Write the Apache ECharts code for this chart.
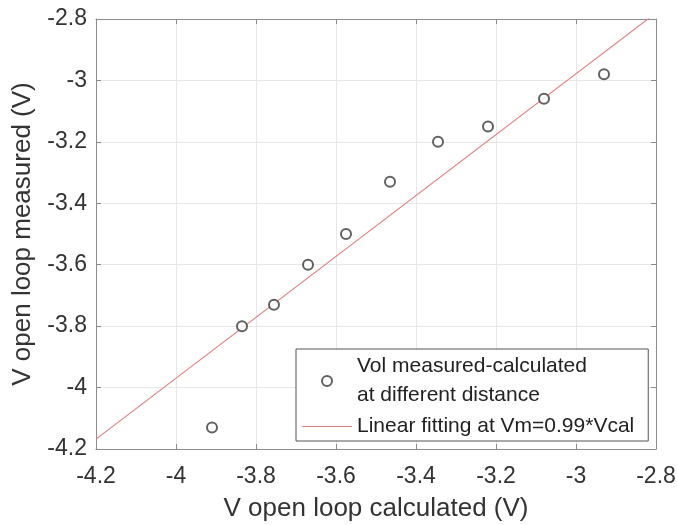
<!doctype html>
<html>
<head>
<meta charset="UTF-8">
<title>V open loop</title>
<script src="https://cdn.jsdelivr.net/npm/echarts@6/dist/echarts.min.js"></script>
<style>
  html, body { margin: 0; padding: 0; background: #fff; }
  #main { width: 677px; height: 525px; }
</style>
</head>
<body>
<div id="main"></div>
<script>
// measured vs calculated open loop voltage (V)
var calcV = [-3.91, -3.835, -3.755, -3.67, -3.575, -3.465, -3.345, -3.22, -3.08, -2.93];
var measV = [-4.13, -3.80, -3.73, -3.60, -3.50, -3.33, -3.20, -3.15, -3.06, -2.98];
// end points of the fitted line
var fitX = [-4.2, -2.8];
var fitY = [-4.168, -2.78];

var scatterName = 'Vol measured-calculated\nat different distance';
var fitName = 'Linear fitting at Vm=0.99*Vcal';

var pts = [];
for (var i = 0; i < calcV.length; i++) {
    pts.push([calcV[i], measV[i]]);
}
var fitPts = [];
for (var j = 0; j < fitX.length; j++) {
    fitPts.push([fitX[j], fitY[j]]);
}

var font = "'Liberation Sans', Arial, sans-serif";
var axisGray = '#8c8c8c';
var fitColor = '#e47c7c';

var myChart = echarts.init(document.getElementById('main'));
var option = {
    backgroundColor: '#fff',
    animation: false,
    textStyle: { fontFamily: font },
    grid: { left: 96, top: 19, right: 21, bottom: 76, outerBoundsMode: 'none' },
    legend: {
        orient: 'vertical',
        left: 296,
        top: 349,
        padding: [3, 14, 0, 6],
        itemGap: 2,
        itemWidth: 50,
        itemHeight: 10,
        backgroundColor: '#fff',
        borderColor: '#555',
        borderWidth: 1,
        textStyle: { fontSize: 21, lineHeight: 29, color: '#222', fontFamily: font },
        data: [
            { name: scatterName },
            // plain line for the fit, no marker in the middle
            { name: fitName, icon: 'path://M0,0H50V1H0Z', itemStyle: { color: fitColor } }
        ]
    },
    xAxis: [{
        type: 'value',
        position: 'bottom',
        min: -4.2, max: -2.8, interval: 0.2,
        name: 'V open loop calculated (V)',
        nameLocation: 'middle',
        nameGap: 47,
        nameTextStyle: { fontSize: 26, color: '#333', fontFamily: font },
        axisLine: { show: true, onZero: false, lineStyle: { color: axisGray, width: 1 } },
        axisTick: { show: true, inside: true, length: 5, lineStyle: { color: axisGray } },
        axisLabel: { fontSize: 23, color: '#333', margin: 16, fontFamily: font },
        splitLine: { show: true, lineStyle: { color: '#e8e8e8', width: 1 } }
    }, {
        type: 'value',
        position: 'top',
        min: -4.2, max: -2.8, interval: 0.2,
        axisLine: { show: true, onZero: false, lineStyle: { color: axisGray, width: 1 } },
        axisTick: { show: true, inside: true, length: 5, lineStyle: { color: axisGray } },
        axisLabel: { show: false },
        splitLine: { show: false }
    }],
    yAxis: [{
        type: 'value',
        position: 'left',
        min: -4.2, max: -2.8, interval: 0.2,
        name: 'V open loop measured (V)',
        nameLocation: 'middle',
        nameGap: 60,
        nameTextStyle: { fontSize: 26, color: '#333', fontFamily: font },
        axisLine: { show: true, onZero: false, lineStyle: { color: axisGray, width: 1 } },
        axisTick: { show: true, inside: true, length: 5, lineStyle: { color: axisGray } },
        axisLabel: { fontSize: 23, color: '#333', margin: 9, fontFamily: font },
        splitLine: { show: true, lineStyle: { color: '#e8e8e8', width: 1 } }
    }, {
        type: 'value',
        position: 'right',
        min: -4.2, max: -2.8, interval: 0.2,
        axisLine: { show: true, onZero: false, lineStyle: { color: axisGray, width: 1 } },
        axisTick: { show: true, inside: true, length: 5, lineStyle: { color: axisGray } },
        axisLabel: { show: false },
        splitLine: { show: false }
    }],
    series: [{
        name: fitName,
        type: 'line',
        data: fitPts,
        symbol: 'none',
        showSymbol: false,
        clip: true,
        lineStyle: { color: fitColor, width: 1.1 },
        itemStyle: { color: fitColor },
        z: 2
    }, {
        name: scatterName,
        type: 'scatter',
        data: pts,
        symbol: 'emptyCircle',
        symbolSize: 10,
        itemStyle: { color: '#3a3a3a', borderWidth: 1.2 },
        z: 3
    }]
};
myChart.setOption(option);
</script>
</body>
</html>
